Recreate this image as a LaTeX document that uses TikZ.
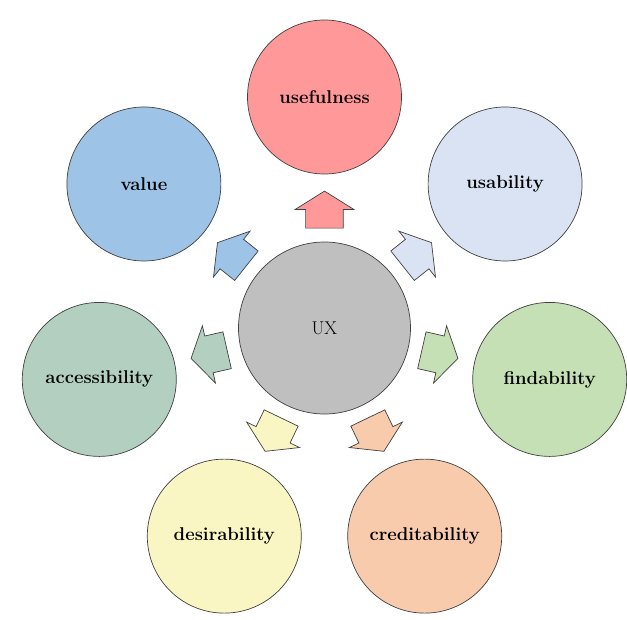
\documentclass[tikz,border=0pt]{standalone}
\usepackage{fontspec}
\usetikzlibrary{shapes.arrows}

\definecolor{uxgray}{HTML}{BFBFBF}
\definecolor{usefulred}{HTML}{FF9999}
\definecolor{valueblue}{HTML}{9DC3E6}
\definecolor{usablue}{HTML}{DAE3F3}
\definecolor{accgreen}{HTML}{B3CFBF}
\definecolor{findgreen}{HTML}{C5E0B4}
\definecolor{desyellow}{HTML}{FAF6C4}
\definecolor{credorange}{HTML}{F8CBAD}

\begin{document}
\begin{tikzpicture}[x=1pt,y=1pt,
    facet/.style={circle, draw=black!75, line width=0.7pt, minimum size=154pt,
      inner sep=0pt, font=\fontsize{18.5}{21}\selectfont\bfseries},
    core/.style={circle, draw=black!75, line width=0.7pt, minimum size=172pt,
      inner sep=0pt, font=\fontsize{18.5}{21}\selectfont},
    blockarrow/.style={single arrow, draw=black!75, line width=0.7pt,
      minimum height=37pt, inner xsep=0pt, inner ysep=18.5pt,
      single arrow head extend=10.5pt, single arrow tip angle=116}]
        \useasboundingbox (-324.5,-291) rectangle (302.5,328);

        % Define the centre
        \node[core, fill=uxgray] (UX) at (0,0) {UX};

        % Define the facets
        \node[facet, fill=usefulred]  (useful) at (90:231)     {usefulness};
        \node[facet, fill=valueblue]  (value)  at (141.43:231) {value};
        \node[facet, fill=accgreen]   (access) at (192.86:231) {accessibility};
        \node[facet, fill=desyellow]  (desire) at (244.29:231) {desirability};
        \node[facet, fill=credorange] (credit) at (295.71:231) {creditability};
        \node[facet, fill=findgreen]  (find)   at (347.14:231) {findability};
        \node[facet, fill=usablue]    (usable) at (38.57:231)  {usability};

        % Draw arrows
        \node[blockarrow, fill=usefulred,  rotate=90]     (toUseful) at (90:112.5)     {};
        \node[blockarrow, fill=valueblue,  rotate=141.43] (toValue)  at (141.43:112.5) {};
        \node[blockarrow, fill=accgreen,   rotate=192.86] (toAccess) at (192.86:112.5) {};
        \node[blockarrow, fill=desyellow,  rotate=244.29] (toDesire) at (244.29:112.5) {};
        \node[blockarrow, fill=credorange, rotate=295.71] (toCredit) at (295.71:112.5) {};
        \node[blockarrow, fill=findgreen,  rotate=347.14] (toFind)   at (347.14:112.5) {};
        \node[blockarrow, fill=usablue,    rotate=38.57]  (toUsable) at (38.57:112.5)  {};
    \end{tikzpicture}
\end{document}
